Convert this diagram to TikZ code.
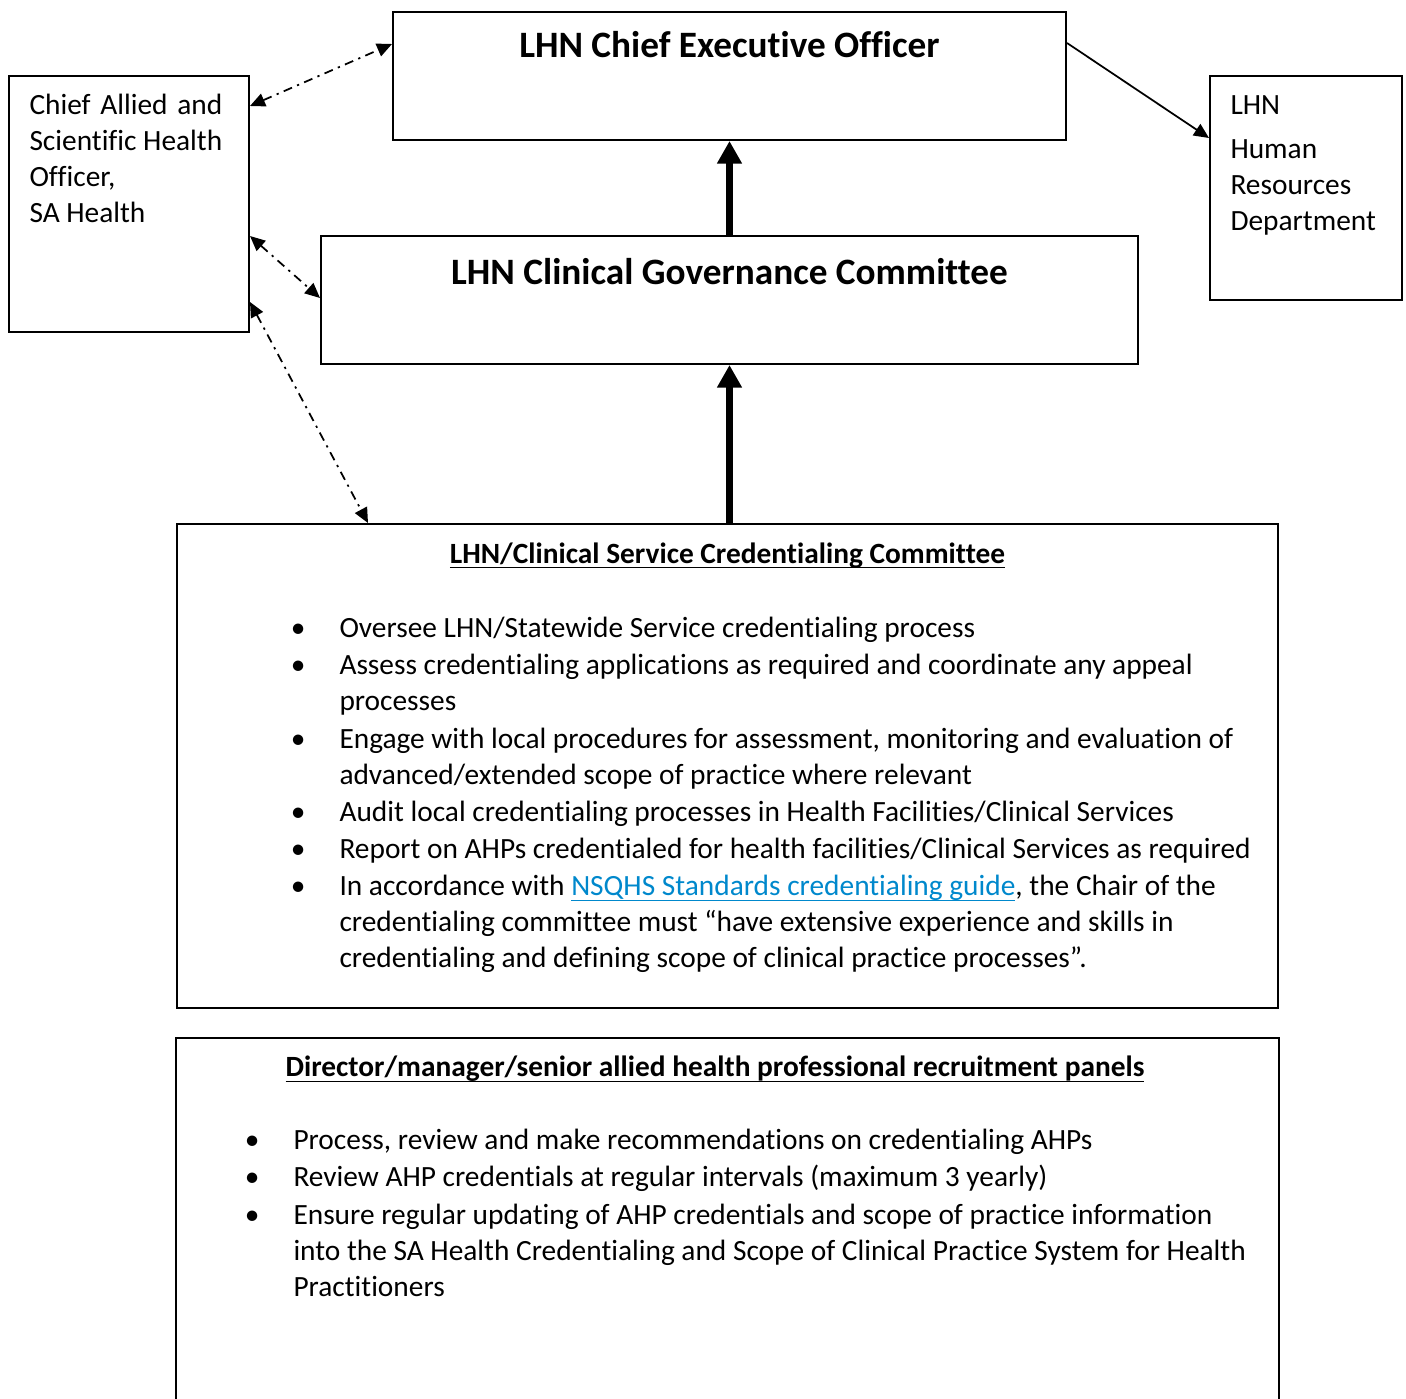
\documentclass[tikz,border=0pt]{standalone}
\usepackage{fontspec}
\setmainfont{Carlito}[Ligatures={NoCommon}]
\usepackage{calc}
\usepackage{enumitem}
\usepackage{xcolor}
\usetikzlibrary{positioning, arrows.meta, calc}
\definecolor{linkblue}{RGB}{0,136,204}
\newcommand{\ulined}[1]{\underline{\raisebox{0pt}[\height][0.5pt]{#1}}}
\setlist[itemize]{leftmargin=16pt, labelsep=13.6pt, labelwidth=2.4pt, align=right,
  topsep=0pt, partopsep=0pt, parsep=0pt, itemsep=0.5pt, label={\strut\textbullet}}

\begin{document}
\begin{tikzpicture}[x=0.4pt, y=-0.4pt]

\tikzstyle{block} = [rectangle, draw, line width=0.8pt, inner sep=0pt];
\tikzstyle{title} = [inner sep=0pt, anchor=base, font=\fontsize{14.9}{18}\selectfont\bfseries];
\tikzstyle{subtitle} = [inner sep=0pt, anchor=base, font=\fontsize{11.75}{14.4}\selectfont\bfseries];
\tikzstyle{body} = [inner sep=0pt, anchor=north west, align=left, font=\fontsize{11.75}{14.4}\selectfont];
\tikzstyle{uplink} = [-{Triangle[length=9pt, width=9.4pt]}, line width=2.8pt];
\tikzstyle{dotlink} = [{Triangle[length=6pt, width=5.4pt]}-{Triangle[length=6pt, width=5.4pt]},
  line width=0.7pt, dash pattern=on 3.6pt off 2.2pt on 0.9pt off 2.2pt];
\tikzstyle{link} = [-{Triangle[length=6pt, width=5.4pt]}, line width=0.7pt];

\useasboundingbox (0,0) rectangle (1406,1399);

\node[block, minimum width=269.2pt, minimum height=51.2pt] (ceo) at (729.5,76) {};
\node[title] (ceotitle) at ([yshift=-18.8pt]ceo.north) {LHN Chief Executive Officer};

\node[block, minimum width=326.8pt, minimum height=51.2pt] (cgc) at (729.5,300) {};
\node[title] (cgctitle) at ([yshift=-19.6pt]cgc.north) {LHN Clinical Governance Committee};

\node[block, minimum width=96pt, minimum height=102.4pt] (chief) at (129,204) {};
\node[body] (chieftext) at (29,88.8) {\strut\makebox[\widthof{Scientific Health}][s]{Chief Allied and}\\
  Scientific Health\\Officer,\\SA Health};

\node[block, minimum width=76.8pt, minimum height=89.6pt] (hr) at (1306,188) {};
\node[body] (hrtext) at (1230,88.8) {\strut LHN\\[3.2pt]Human\\Resources\\Department};

\node[block, minimum width=440.4pt, minimum height=193.6pt] (cred) at (727.5,766) {};
\node[subtitle] (credtitle) at ([yshift=-16pt]cred.north) {\ulined{LHN/Clinical Service Credentialing Committee}};
\node[body] (credlist) at (299,611.8) {\begin{minipage}[t]{391.6pt}\raggedright
\begin{itemize}
\item Oversee LHN/Statewide Service credentialing process
\item Assess credentialing applications as required and coordinate any appeal\newline processes
\item Engage with local procedures for assessment, monitoring and evaluation of\newline
  advanced/extended scope of practice where relevant
\item Audit local credentialing processes in Health Facilities/Clinical Services
\item Report on AHPs credentialed for health facilities/Clinical Services as required
\item In accordance with \textcolor{linkblue}{\ulined{NSQHS Standards credentialing guide}}, the Chair of the\newline
  credentialing committee must “have extensive experience and skills in\newline
  credentialing and defining scope of clinical practice processes”.
\end{itemize}
\end{minipage}};

\node[inner sep=0pt, minimum width=440.4pt, minimum height=145.6pt] (recruit) at (727.5,1220) {};
\draw[line width=0.8pt] (recruit.south west) -- (recruit.north west) -- (recruit.north east) -- (recruit.south east);
\node[subtitle] (rectitle) at ([xshift=-5pt, yshift=-15.6pt]recruit.north)
  {\ulined{Director/manager/senior allied health professional recruitment panels}};
\node[body] (reclist) at (253,1123.8) {\begin{minipage}[t]{410pt}\raggedright
\begin{itemize}
\item Process, review and make recommendations on credentialing AHPs
\item Review AHP credentials at regular intervals (maximum 3 yearly)
\item Ensure regular updating of AHP credentials and scope of practice information\newline
  into the SA Health Credentialing and Scope of Clinical Practice System for Health\newline
  Practitioners
\end{itemize}
\end{minipage}};

\draw[uplink] (cgc.north) -- (ceo.south);
\draw[uplink] (cgc.south |- cred.north) -- (cgc.south);
\draw[dotlink] ([yshift=-12.4pt]chief.north east) -- ([yshift=-13.2pt]ceo.north west);
\draw[dotlink] ([yshift=-64.4pt]chief.north east) -- ([yshift=-25.2pt]cgc.north west);
\draw[dotlink] ([yshift=-90.8pt]chief.north east) -- ([xshift=76.8pt]cred.north west);
\draw[link] ([yshift=-12.8pt]ceo.north east) -- ([yshift=-25.2pt]hr.north west);

\end{tikzpicture}
\end{document}
